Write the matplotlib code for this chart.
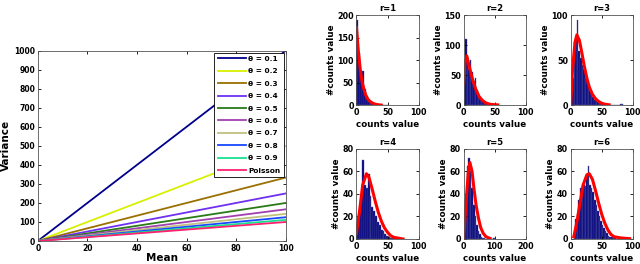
"""Variance-mean lines and negative binomial count histograms."""

import numpy as np
import matplotlib.pyplot as plt

# left panel: variance = mean / theta
mean = [1, 100]
thetas = [0.1, 0.2, 0.3, 0.4, 0.5, 0.6, 0.7, 0.8, 0.9, 1.0]
labels = ['θ = 0.1', 'θ = 0.2', 'θ = 0.3', 'θ = 0.4', 'θ = 0.5',
          'θ = 0.6', 'θ = 0.7', 'θ = 0.8', 'θ = 0.9', 'Poisson']
colors = ['#00008c', '#d8f000', '#9a7000', '#7030f0', '#2a7a18',
          '#a040b0', '#c0c080', '#1848ff', '#18e090', '#ff2070']

# histogram panels: bin width, bin counts, fitted curve points
titles = ['r=1', 'r=2', 'r=3', 'r=4', 'r=5', 'r=6']
xlims = [100, 100, 100, 100, 200, 100]
ylims = [200, 150, 100, 80, 80, 80]
yticks = [[0, 50, 100, 150, 200], [0, 50, 100, 150], [0, 50, 100],
          [0, 20, 40, 60, 80], [0, 20, 40, 60, 80], [0, 20, 40, 60, 80]]
xticks = [[0, 50, 100]] * 4 + [[0, 100, 200]] + [[0, 50, 100]]
bin_start = [0, 0, 0, 0, 0, 5]
bin_width = [3, 2.5, 2.5, 3, 5, 2.5]
counts = [
    [190, 115, 70, 75, 35, 20, 12, 7, 4, 2, 1, 1, 0, 0, 0, 0, 1],
    [35, 110, 80, 60, 75, 55, 40, 45, 25, 15, 10, 8, 5, 3, 2, 1, 1],
    [5, 30, 70, 72, 95, 60, 52, 45, 40, 30, 28, 20, 17, 12, 9, 6, 4, 3,
     2, 1, 1, 0, 0, 0, 0, 0, 0, 0, 0, 0, 0, 0, 1, 1],
    [5, 20, 35, 70, 48, 45, 58, 38, 28, 25, 20, 15, 12, 8, 7, 4, 3, 2, 1, 1],
    [10, 35, 65, 72, 60, 45, 30, 20, 12, 7, 4, 2, 1, 1, 0, 0, 0, 0, 0, 1],
    [3, 18, 22, 35, 45, 48, 48, 47, 56, 65, 48, 45, 42, 35, 30, 25, 20, 16,
     12, 10, 7, 5, 3, 2, 2, 1, 1],
]
fit_x = [
    [0, 3, 6, 9, 12, 15, 18, 21, 25, 28, 32, 36, 40],
    [0, 2, 5, 10, 15, 20, 25, 30, 35, 40, 45, 55],
    [0, 3, 7, 10, 14, 18, 22, 26, 30, 35, 40, 45, 50, 55, 62],
    [0, 5, 10, 16, 20, 25, 30, 35, 40, 45, 50, 55, 60, 70, 75],
    [0, 7, 15, 20, 27, 33, 40, 48, 55, 63, 72, 85],
    [5, 10, 15, 20, 26, 30, 35, 40, 45, 50, 55, 60, 65, 70, 80, 95],
]
fit_y = [
    [172, 120, 80, 52, 35, 22, 14, 9, 5, 3, 1.5, 0.5, 0],
    [35, 70, 82, 60, 40, 25, 14, 8, 4, 2, 1, 0.3],
    [0, 40, 70, 78, 72, 58, 43, 30, 20, 12, 7, 4, 2, 1, 0.3],
    [5, 25, 48, 58, 55, 45, 34, 24, 16, 10, 6, 3, 1.5, 0.5, 0],
    [0, 30, 60, 68, 60, 45, 30, 18, 10, 5, 2, 0.5],
    [2, 15, 32, 48, 57, 58, 53, 43, 32, 22, 14, 8, 4, 2, 1, 0.3],
]


def style(ax, size):
    """Matlab-like axes."""
    ax.tick_params(direction='in', top=True, right=True, length=2.5,
                   width=0.6, labelsize=size, pad=2)
    for s in ax.spines.values():
        s.set_linewidth(0.6)
        s.set_color('#555555')
    for t in ax.get_xticklabels() + ax.get_yticklabels():
        t.set_fontweight('bold')


def main():
    """Main program called during execution."""
    fig = plt.figure(figsize=(6.4, 2.64), dpi=100)

    # left panel
    ax0 = fig.add_axes([0.059, 0.087, 0.3875, 0.721])
    for theta, lab, c in zip(thetas, labels, colors):
        ax0.plot(mean, [m / theta for m in mean], color=c, lw=1.3,
                 label=lab)
    ax0.set_xlim(0, 100)
    ax0.set_ylim(0, 1000)
    ax0.set_xticks(range(0, 101, 20))
    ax0.set_yticks(range(0, 1001, 100))
    ax0.set_xlabel('Mean', fontsize=7.5, fontweight='bold', labelpad=0)
    ax0.set_ylabel('Variance', fontsize=7.5, fontweight='bold', labelpad=2)
    style(ax0, 5.5)
    leg = ax0.legend(loc='upper right', handlelength=3.8,
                     borderpad=0.45, labelspacing=0.85, handletextpad=0.4,
                     fancybox=False, borderaxespad=0.25,
                     prop={'weight': 'bold', 'size': 5.3})
    leg.get_frame().set_edgecolor('black')
    leg.get_frame().set_linewidth(0.6)
    leg.get_frame().set_alpha(1)

    # histogram panels
    lefts = [0.557, 0.7245, 0.8917]
    bottoms = [0.602, 0.0947]
    for i in range(6):
        ax = fig.add_axes([lefts[i % 3], bottoms[i // 3], 0.097, 0.341])
        edges = bin_start[i] + bin_width[i] * np.arange(len(counts[i]))
        ax.bar(edges, counts[i], width=bin_width[i], align='edge',
               color='#000080', edgecolor='#5a5a9a', linewidth=0.3)
        ax.plot(fit_x[i], fit_y[i], color='red', lw=2.2)
        ax.set_xlim(0, xlims[i])
        ax.set_ylim(0, ylims[i])
        ax.set_xticks(xticks[i])
        ax.set_yticks(yticks[i])
        ax.set_title(titles[i], fontsize=6, fontweight='bold', pad=3)
        ax.set_xlabel('counts value', fontsize=6.3, fontweight='bold',
                      labelpad=2)
        ax.set_ylabel('#counts value', fontsize=6.3, fontweight='bold',
                      labelpad=1)
        style(ax, 5.8)

    fig.savefig('out.png', dpi=100)


if __name__ == '__main__':
    main()
